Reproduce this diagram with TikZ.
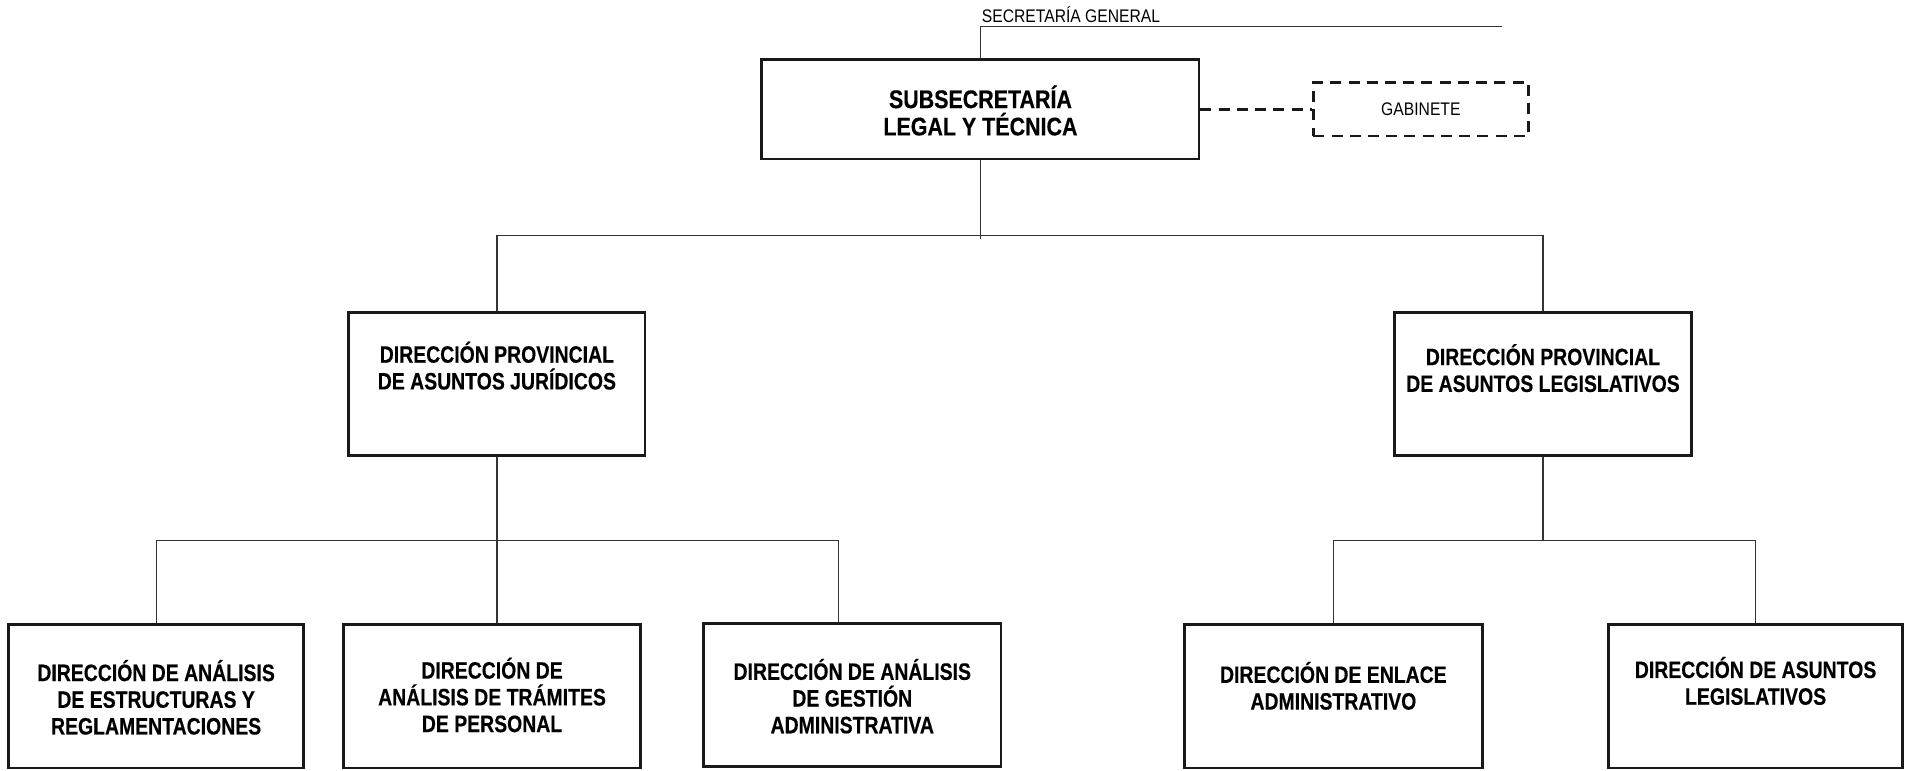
\documentclass[tikz,border=0pt]{standalone}
\usepackage{fontspec}
\setmainfont{Liberation Sans}
\newfontfamily\boldnarrow[FakeStretch=0.82,FakeBold=0.4]{Liberation Sans Bold}
\newfontfamily\titlenarrow[FakeStretch=0.84,FakeBold=0.4]{Liberation Sans Bold}
\newfontfamily\regnarrow[FakeStretch=0.86]{Liberation Sans}
\begin{document}
\begin{tikzpicture}[x=1pt,y=-1pt,
  box/.style={draw=black!90, line width=2.2pt, rectangle, inner sep=0pt},
  conn/.style={draw=black!80, line width=1pt},
  txt/.style={align=center, inner sep=0pt, font=\boldnarrow\fontsize{19.5}{22}\selectfont},
  ttl/.style={align=center, inner sep=0pt, font=\titlenarrow\fontsize{21}{22.5}\selectfont},
  small/.style={inner sep=0pt, font=\regnarrow\fontsize{15}{16}\selectfont}]
\useasboundingbox (0,0) rectangle (1568,634);
% top
\node[box, minimum width=360, minimum height=82] (sub) at (807,90) {};
\node[ttl] (subt) at (807,91) {SUBSECRETARÍA\\LEGAL Y TÉCNICA};
\coordinate (sgl) at (807,22);
\coordinate (sgr) at (1236,22);
\node[small, anchor=base west] (sgt) at (808,18.5) {SECRETARÍA GENERAL};
\draw[conn] (sub.north) -- (sgl) -- (sgr);
% gabinete
\node[draw=black!90, dash pattern=on 9pt off 6pt, line width=2pt, minimum width=177, minimum height=44, inner sep=0pt] (gab) at (1169.5,90) {};
\node[small] (gabt) at (1169.5,90) {GABINETE};
\draw[draw=black!90, line width=2pt, dash pattern=on 9pt off 6pt] (sub.east) -- (gab.west);
% level 2
\node[box, minimum width=244, minimum height=118] (dpj) at (409,316) {};
\node[txt] (dpjt) at (409,301) {DIRECCIÓN PROVINCIAL\\DE ASUNTOS JURÍDICOS};
\node[box, minimum width=244, minimum height=118] (dpl) at (1270,316) {};
\node[txt] (dplt) at (1270,303) {DIRECCIÓN PROVINCIAL\\DE ASUNTOS LEGISLATIVOS};
\coordinate (hb) at (807,194);
\coordinate (subend) at (807,197);
\draw[conn] (sub.south) -- (subend);
\draw[conn] (dpj.north) -- (dpj.north |- hb) -- (dpl.north |- hb) -- (dpl.north);
% level 3 left
\node[box, minimum width=243, minimum height=118] (b1) at (128.5,573) {};
\node[txt] (b1t) at (128.5,574) {DIRECCIÓN DE ANÁLISIS\\DE ESTRUCTURAS Y\\REGLAMENTACIONES};
\node[box, minimum width=244, minimum height=118] (b2) at (405,573) {};
\node[txt] (b2t) at (405,572) {DIRECCIÓN DE\\ANÁLISIS DE TRÁMITES\\DE PERSONAL};
\node[box, minimum width=245, minimum height=118] (b3) at (701.5,572) {};
\node[txt] (b3t) at (701.5,573) {DIRECCIÓN DE ANÁLISIS\\DE GESTIÓN\\ADMINISTRATIVA};
\coordinate (hl) at (409,445);
\coordinate (hl3) at (690,445);
\draw[conn] (dpj.south) -- (dpj.south |- b2.north);
\draw[conn] (b1.north) -- (b1.north |- hl) -- (hl3) -- (hl3 |- b3.north);
% level 3 right
\node[box, minimum width=245, minimum height=118] (b4) at (1097.5,573) {};
\node[txt] (b4t) at (1097.5,564.5) {DIRECCIÓN DE ENLACE\\ADMINISTRATIVO};
\node[box, minimum width=242, minimum height=118] (b5) at (1445,573) {};
\node[txt] (b5t) at (1445,560.5) {DIRECCIÓN DE ASUNTOS\\LEGISLATIVOS};
\coordinate (hr) at (1270,445);
\draw[conn] (dpl.south) -- (hr);
\draw[conn] (b4.north) -- (b4.north |- hr) -- (b5.north |- hr) -- (b5.north);
\end{tikzpicture}
\end{document}
